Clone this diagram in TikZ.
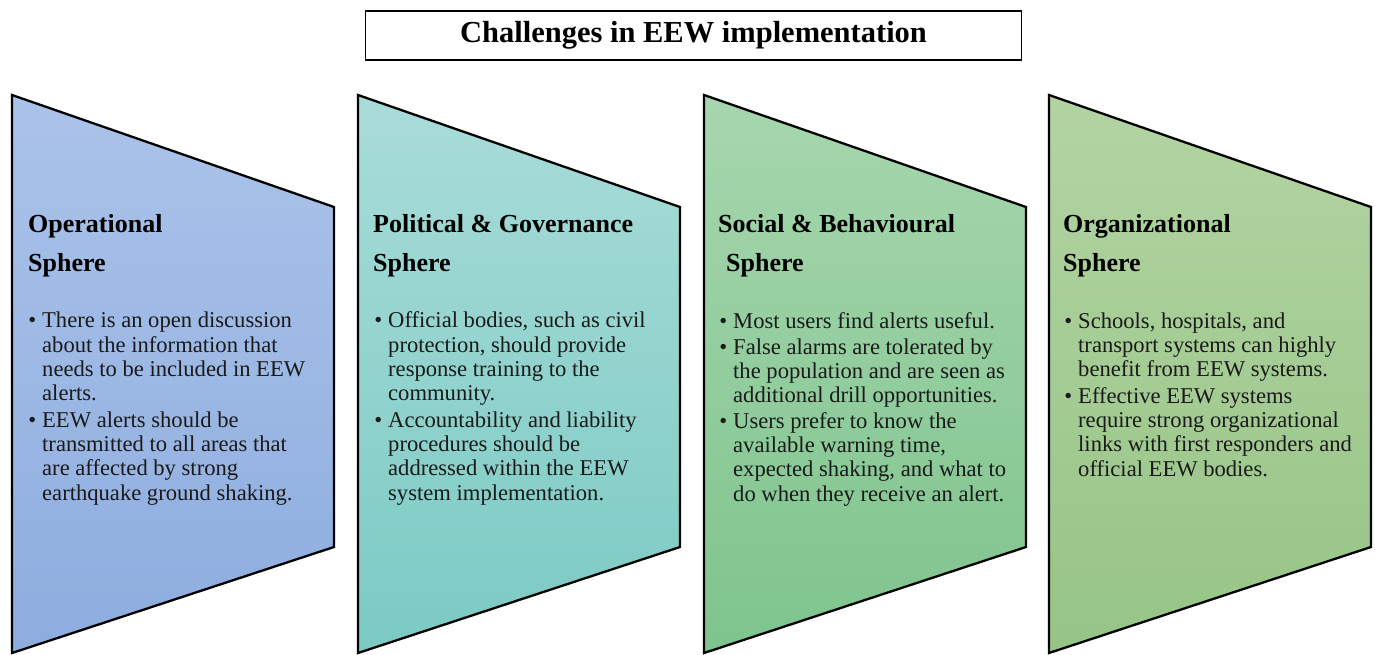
\documentclass[tikz,border=0pt]{standalone}
\usepackage{fontspec}
\setmainfont{Liberation Serif}
\usepackage{tikz}
\definecolor{opTop}{HTML}{ABC3E9}
\definecolor{opBot}{HTML}{8DADDF}
\definecolor{polTop}{HTML}{A9DCD8}
\definecolor{polBot}{HTML}{7BCAC4}
\definecolor{socTop}{HTML}{A7D6AE}
\definecolor{socBot}{HTML}{7EC48D}
\definecolor{orgTop}{HTML}{B3D4A2}
\definecolor{orgBot}{HTML}{96C486}
\definecolor{ink}{HTML}{1A1A1A}
\tikzstyle{panel} = [draw=black, line width=2.3pt, line join=miter]
\tikzstyle{titlebox} = [draw=black, line width=1.8pt, minimum width=656pt,
    minimum height=49pt, inner sep=0pt,
    font=\fontsize{30.5}{34}\selectfont\bfseries]
\tikzstyle{heading} = [anchor=base west, inner sep=0pt, align=left,
    text=black, font=\fontsize{26}{39}\selectfont\bfseries]
\tikzstyle{body} = [anchor=base west, inner sep=0pt, align=left,
    text=ink, font=\fontsize{22.6}{24.3}\selectfont]
\newcommand{\bul}{\makebox[0pt][r]{\textbullet\hspace{6pt}}}

\begin{document}
\begin{tikzpicture}[x=1pt, y=-1pt]
	\useasboundingbox (0,0) rectangle (1375,654);

	% Title
	\node [titlebox] (title) at (693.5,35.5) {Challenges in EEW implementation};

	% Operational sphere (nodes sit on the baseline of their last line)
	\draw [panel, top color=opTop, bottom color=opBot]
		(12,95) -- (334,207) -- (334,547) -- (12,653) -- cycle;
	\node [heading] (op-head) at (28,271) {Operational\\Sphere};
	\node [body] (op-body) at (42,500) {\bul There is an open discussion\\
		about the information that\\
		needs to be included in EEW\\
		alerts.\\[2pt]
		\bul EEW alerts should be\\
		transmitted to all areas that\\
		are affected by strong\\
		earthquake ground shaking.};

	% Political & governance sphere
	\draw [panel, top color=polTop, bottom color=polBot]
		(358,95) -- (680,207) -- (680,547) -- (358,653) -- cycle;
	\node [heading] (pol-head) at (373,271) {Political \& Governance\\Sphere};
	\node [body] (pol-body) at (388,500) {\bul Official bodies, such as civil\\
		protection, should provide\\
		response training to the\\
		community.\\[2pt]
		\bul Accountability and liability\\
		procedures should be\\
		addressed within the EEW\\
		system implementation.};

	% Social & behavioural sphere
	\draw [panel, top color=socTop, bottom color=socBot]
		(704,95) -- (1026,207) -- (1026,547) -- (704,653) -- cycle;
	\node [heading] (soc-head) at (718,271) {Social \& Behavioural\\\hspace{8pt}Sphere};
	\node [body] (soc-body) at (733,501) {\bul Most users find alerts useful.\\[1pt]
		\bul False alarms are tolerated by\\
		the population and are seen as\\
		additional drill opportunities.\\[1pt]
		\bul Users prefer to know the\\
		available warning time,\\
		expected shaking, and what to\\
		do when they receive an alert.};

	% Organizational sphere
	\draw [panel, top color=orgTop, bottom color=orgBot]
		(1049,95) -- (1371,207) -- (1371,547) -- (1049,653) -- cycle;
	\node [heading] (org-head) at (1063,271) {Organizational\\Sphere};
	\node [body] (org-body) at (1078,476) {\bul Schools, hospitals, and\\
		transport systems can highly\\
		benefit from EEW systems.\\[2pt]
		\bul Effective EEW systems\\
		require strong organizational\\
		links with first responders and\\
		official EEW bodies.};
\end{tikzpicture}
\end{document}
